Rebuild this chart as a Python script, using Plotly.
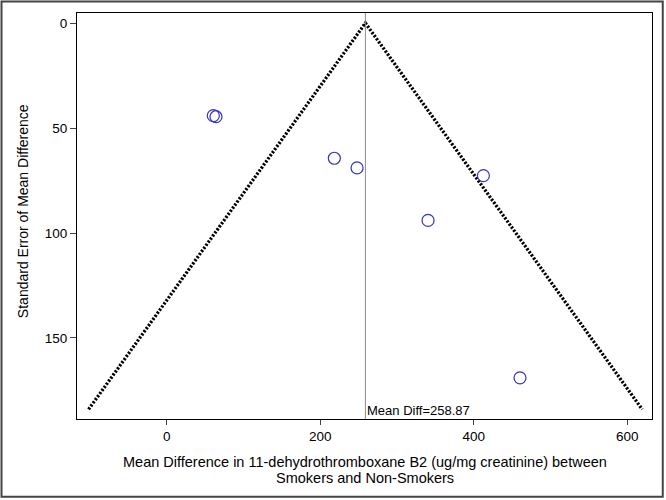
import plotly.graph_objects as go

# study estimates
mean_diff = [60.7, 64.2, 218.4, 248.0, 412.6, 340.5, 460.3]
std_err = [44.1, 44.6, 64.4, 69.0, 72.7, 94.0, 169.0]

# pooled estimate and pseudo 95% limits
pooled = 258.87
limit_x = [-101.8, 258.87, 619.5]
limit_se = [184.0, 0.0, 184.0]

x_ticks = [0, 200, 400, 600]
y_ticks = [0, 50, 100, 150]

x_title_1 = "Mean Difference in 11-dehydrothromboxane B2 (ug/mg creatinine) between"
x_title_2 = "Smokers and Non-Smokers"
y_title = "Standard Error of Mean Difference"

fig = go.Figure()

fig.add_trace(go.Scatter(
    x=limit_x, y=limit_se, mode="lines",
    line=dict(color="black", width=3.3, dash="2.2px,1.6px"),
    hoverinfo="skip", showlegend=False,
))

fig.add_trace(go.Scatter(
    x=[pooled, pooled], y=[-4.8, 188.6], mode="lines",
    line=dict(color="#8c8c8c", width=1),
    hoverinfo="skip", showlegend=False,
))

fig.add_trace(go.Scatter(
    x=mean_diff, y=std_err, mode="markers",
    marker=dict(symbol="circle-open", size=12, color="#3232c8", line=dict(width=1.2)),
    showlegend=False,
))

fig.add_annotation(
    x=pooled, y=188.6, xref="x", yref="y", text="Mean Diff=258.87",
    showarrow=False, xanchor="left", yanchor="bottom", xshift=0, yshift=-1,
    font=dict(size=13, color="black"),
)

# axis titles placed as annotations
fig.add_annotation(
    x=0.5, y=-0.1059, xref="paper", yref="paper", yanchor="middle",
    text=x_title_1, showarrow=False, font=dict(size=14.5, color="black"),
)
fig.add_annotation(
    x=0.5, y=-0.1453, xref="paper", yref="paper", yanchor="middle",
    text=x_title_2, showarrow=False, font=dict(size=14.5, color="black"),
)
fig.add_annotation(
    x=-0.0939, y=0.512, xref="paper", yref="paper", xanchor="center",
    yanchor="middle", textangle=-90,
    text=y_title, showarrow=False, font=dict(size=14, color="black"),
)

# frame around the whole picture
fig.add_shape(
    type="rect", xref="paper", yref="paper",
    x0=-0.1313, x1=1.0187, y0=-0.1916, y1=1.0283,
    line=dict(color="#444444", width=2),
)

fig.update_xaxes(
    range=[-116.9, 632.3], tickvals=x_ticks, ticks="outside", ticklen=5,
    showgrid=False, zeroline=False, showline=True, linecolor="black",
    linewidth=1, mirror=True, tickfont=dict(size=13.5, color="black"),
    automargin=False,
)
fig.update_yaxes(
    range=[188.6, -4.8], tickvals=y_ticks, ticks="outside", ticklen=6,
    showgrid=False, zeroline=False, showline=True, linecolor="black",
    linewidth=1, mirror=True, tickfont=dict(size=13.5, color="black"),
    automargin=False,
)

fig.update_layout(
    width=666, height=500,
    margin=dict(l=77, r=14, t=13, b=81),
    plot_bgcolor="white", paper_bgcolor="white",
    font=dict(family="Liberation Sans, Arial, sans-serif", color="black"),
)

# drop the browser's default page margin so the figure sits at the window corner
fig.write_html(
    "out.html",
    config={"displayModeBar": False},
    post_script="document.body.style.margin='0';",
)
